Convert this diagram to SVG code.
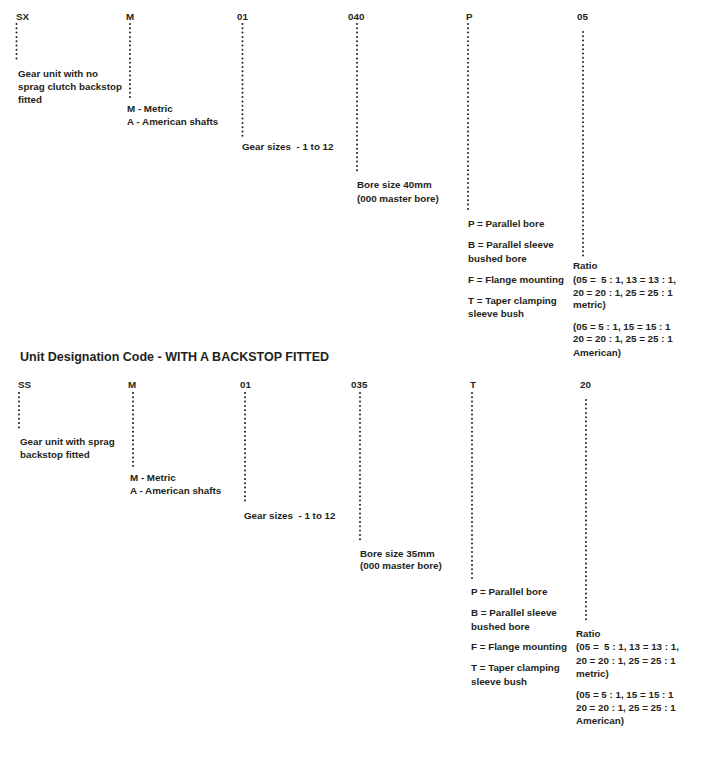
<svg xmlns="http://www.w3.org/2000/svg" width="719" height="765" viewBox="0 0 719 765">
<style>
text{font-family:"Liberation Sans",Arial,sans-serif;font-weight:bold;font-size:9.8px;fill:#231f20;white-space:pre}
.title{font-size:12.5px}
.dot{fill:none;stroke:#231f20;stroke-width:2;stroke-linecap:round;stroke-dasharray:0 4.3}
</style>
<rect width="719" height="765" fill="#ffffff"/>
<g id="connectors">
<path class="dot" d="M16.5 24V61"/>
<path class="dot" d="M130 24V100"/>
<path class="dot" d="M242.5 24V136"/>
<path class="dot" d="M357 24V172"/>
<path class="dot" d="M468 24V211"/>
<path class="dot" d="M583 32V257"/>
<path class="dot" d="M19 393V428"/>
<path class="dot" d="M133 393V467"/>
<path class="dot" d="M245 393V503"/>
<path class="dot" d="M360 393V542"/>
<path class="dot" d="M472 393V579"/>
<path class="dot" d="M586 400V623"/>
</g>
<g id="top-sx"><text x="16" y="20">SX</text><text x="18" y="77">Gear unit with no</text><text x="18" y="90">sprag clutch backstop</text><text x="18" y="103">fitted</text></g>
<g id="top-m"><text x="126" y="20">M</text><text x="127" y="112">M - Metric</text><text x="127" y="125">A - American shafts</text></g>
<g id="top-01"><text x="237" y="20">01</text><text x="242" y="150">Gear sizes  - 1 to 12</text></g>
<g id="top-040"><text x="348" y="20">040</text><text x="357" y="188">Bore size 40mm</text><text x="357" y="202">(000 master bore)</text></g>
<g id="top-p"><text x="466" y="20">P</text><text x="468" y="227">P = Parallel bore</text><text x="468" y="248">B = Parallel sleeve</text><text x="468" y="262">bushed bore</text><text x="468" y="283">F = Flange mounting</text><text x="468" y="304">T = Taper clamping</text><text x="468" y="317">sleeve bush</text></g>
<g id="top-05"><text x="577" y="20">05</text><text x="573" y="269">Ratio</text><text x="573" y="283">(05 =  5 : 1, 13 = 13 : 1,</text><text x="573" y="296">20 = 20 : 1, 25 = 25 : 1</text><text x="573" y="308">metric)</text><text x="573" y="330">(05 = 5 : 1, 15 = 15 : 1</text><text x="573" y="342">20 = 20 : 1, 25 = 25 : 1</text><text x="573" y="356">American)</text></g>
<g id="title"><text class="title" x="20" y="361">Unit Designation Code - WITH A BACKSTOP FITTED</text></g>
<g id="bot-ss"><text x="18" y="388">SS</text><text x="20" y="445">Gear unit with sprag</text><text x="20" y="458">backstop fitted</text></g>
<g id="bot-m"><text x="128" y="388">M</text><text x="130" y="481">M - Metric</text><text x="130" y="494">A - American shafts</text></g>
<g id="bot-01"><text x="240" y="388">01</text><text x="244" y="519">Gear sizes  - 1 to 12</text></g>
<g id="bot-035"><text x="351" y="388">035</text><text x="360" y="557">Bore size 35mm</text><text x="360" y="569">(000 master bore)</text></g>
<g id="bot-t"><text x="470" y="388">T</text><text x="471" y="595">P = Parallel bore</text><text x="471" y="616">B = Parallel sleeve</text><text x="471" y="630">bushed bore</text><text x="471" y="650">F = Flange mounting</text><text x="471" y="671">T = Taper clamping</text><text x="471" y="685">sleeve bush</text></g>
<g id="bot-20"><text x="580" y="388">20</text><text x="576" y="637">Ratio</text><text x="576" y="650">(05 =  5 : 1, 13 = 13 : 1,</text><text x="576" y="664">20 = 20 : 1, 25 = 25 : 1</text><text x="576" y="677">metric)</text><text x="576" y="698">(05 = 5 : 1, 15 = 15 : 1</text><text x="576" y="711">20 = 20 : 1, 25 = 25 : 1</text><text x="576" y="724">American)</text></g>
</svg>
